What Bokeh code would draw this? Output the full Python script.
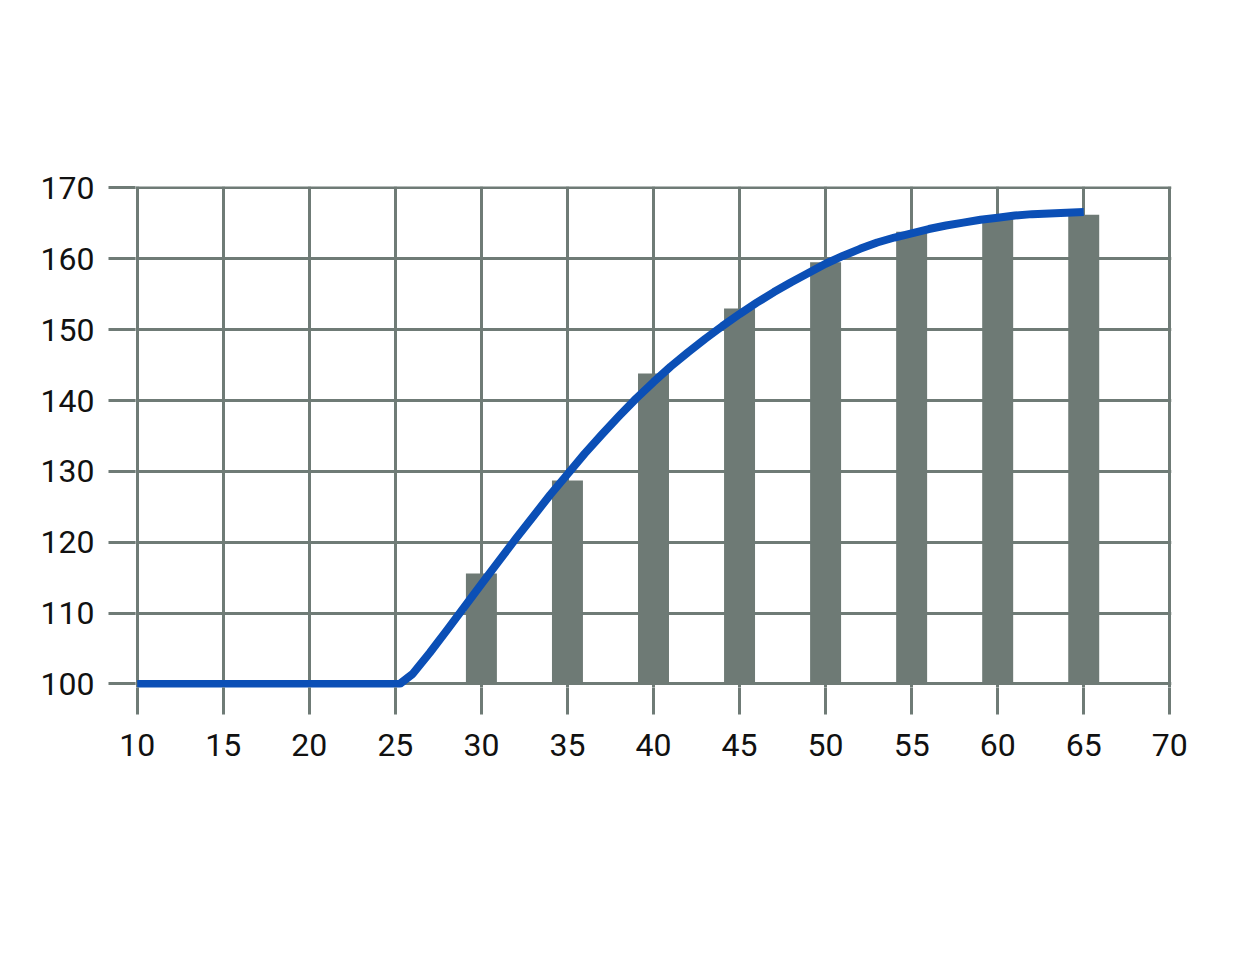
from bokeh.plotting import figure
from bokeh.models import Range1d, FixedTicker
from bokeh.embed import file_html
from bokeh.resources import INLINE

# Data
bar_x = [30, 35, 40, 45, 50, 55, 60, 65]
bar_y = [115.6, 128.7, 143.8, 153.0, 159.5, 163.8, 165.6, 166.2]

curve_x = [10, 25.25, 26, 27, 28, 29, 30, 31, 32, 33, 34, 35, 36, 37, 38, 39, 40,
           41, 42, 43, 44, 45, 46, 47, 48, 49, 50, 51, 52, 53, 54, 55, 56, 57, 58,
           59, 60, 61, 62, 63, 64, 65]
curve_y = [100, 100, 101.4, 104.4, 107.6, 110.85, 114.1, 117.3, 120.5, 123.6,
           126.7, 129.6, 132.5, 135.2, 137.8, 140.3, 142.6, 144.8, 146.8, 148.7,
           150.5, 152.2, 153.8, 155.3, 156.7, 158.0, 159.3, 160.4, 161.4, 162.3,
           163.0, 163.6, 164.2, 164.7, 165.1, 165.5, 165.8, 166.1, 166.3, 166.4,
           166.5, 166.6]

x_ticks = [10, 15, 20, 25, 30, 35, 40, 45, 50, 55, 60, 65, 70]
y_ticks = [100, 110, 120, 130, 140, 150, 160, 170]

GRID = "#6f7b76"
BAR = "#6e7a75"
LINE = "#0b4fb6"
FONT = "Roboto"

p = figure(width=1222, height=958, output_backend="svg", toolbar_location=None,
           x_range=Range1d(9.9, 70.1), y_range=Range1d(99.5, 170.2),
           min_border_left=135, min_border_top=186, min_border_right=51,
           min_border_bottom=271)
p.background_fill_color = "white"
p.border_fill_color = "white"
p.outline_line_color = None

p.vbar(x=bar_x, top=bar_y, bottom=100, width=1.8, fill_color=BAR, line_color=None)
p.line(curve_x, curve_y, line_color=LINE, line_width=8, line_join="round")

for ax, ticks in ((p.xaxis, x_ticks), (p.yaxis, y_ticks)):
    ax.ticker = FixedTicker(ticks=ticks)
    ax.axis_line_color = None
    ax.major_tick_line_color = GRID
    ax.major_tick_line_width = 3
    ax.major_tick_in = 0
    ax.minor_tick_line_color = None
    ax.major_label_text_font = FONT
    ax.major_label_text_font_size = "32px"
    ax.major_label_text_color = "#111111"

p.xaxis.major_tick_out = 27
p.yaxis.major_tick_out = 27
p.xaxis.major_label_standoff = 19
p.yaxis.major_label_standoff = 14

p.xgrid.ticker = FixedTicker(ticks=x_ticks)
p.ygrid.ticker = FixedTicker(ticks=y_ticks)
for g in (p.xgrid, p.ygrid):
    g.grid_line_color = GRID
    g.grid_line_width = 3

open("out.html", "w").write(file_html(p, INLINE))
